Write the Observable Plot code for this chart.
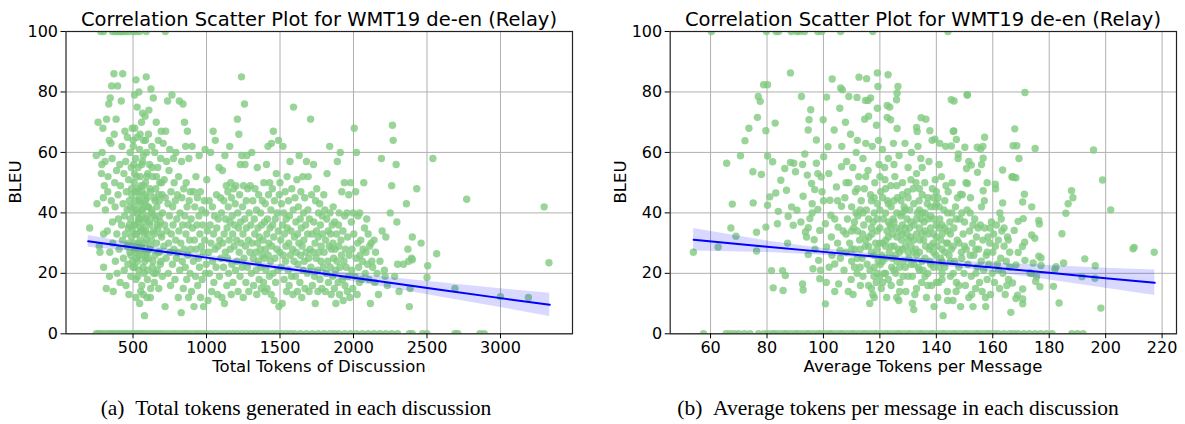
<!DOCTYPE html>
<html><head><meta charset="utf-8">
<script src="https://cdn.jsdelivr.net/npm/d3@7"></script>
<script src="https://cdn.jsdelivr.net/npm/@observablehq/plot@0.6"></script>
<style>
body{margin:0;background:#fff;width:1185px;height:424px;position:relative;overflow:hidden;font-family:"DejaVu Sans",sans-serif;color:#000}
.panel{position:absolute;top:0}
.title{position:absolute;font-size:19.5px;line-height:22px;white-space:nowrap;transform:translateX(-50%)}
.xlab{position:absolute;font-size:16.5px;line-height:18px;white-space:nowrap;transform:translateX(-50%)}
.ylab{position:absolute;font-size:16.5px;line-height:18px;white-space:nowrap;transform:translate(-50%,-50%) rotate(-90deg)}
.cap{position:absolute;font-family:"Liberation Serif",serif;font-size:21.5px;line-height:24px;white-space:nowrap;transform:translateX(-50%)}
</style></head>
<body>
<div id="left" class="panel" style="left:0"></div>
<div id="right" class="panel" style="left:590px"></div>
<div class="title" style="left:319px;top:9px">Correlation Scatter Plot for WMT19 de-en (Relay)</div>
<div class="title" style="left:923px;top:9px">Correlation Scatter Plot for WMT19 de-en (Relay)</div>
<div class="xlab" style="left:319px;top:358px">Total Tokens of Discussion</div>
<div class="xlab" style="left:923px;top:358px">Average Tokens per Message</div>
<div class="ylab" style="left:16px;top:182px">BLEU</div>
<div class="ylab" style="left:621px;top:182px">BLEU</div>
<div class="cap" style="left:296px;top:396px">(a)&nbsp;&nbsp;Total tokens generated in each discussion</div>
<div class="cap" style="left:898px;top:396px">(b)&nbsp;&nbsp;Average tokens per message in each discussion</div>
<script>
// ---------- Panel (a): total tokens vs BLEU ----------
const leftPoints = [
[205,35],[250,59],[255,43],[262,70],[270,29],[275,27],[285,53],[288,56],[290,60],[295,68],[298,45],[300,33],[300,22],
[305,49],[310,57],[312,41],[318,15],[320,71],[325,34],[328,47],[330,52],[335,76],[338,64],[340,19],[342,27],[345,78],[350,63],[352,44],[355,82],[358,58],[360,37],[362,30],[365,14],[370,86],[372,66],[375,50],[378,42],[380,24],[385,71],[388,54],[390,33],[392,20],[395,82],[398,46],[400,38],
[405,28],[410,56],[412,17],[415,49],[420,77],[422,36],[425,62],[428,31],[430,86],[432,43],[435,25],[438,53],[440,21],[442,39],[445,67],[448,33],[450,57],[452,16],[455,47],[458,29],[460,41],[462,65],[465,23],[468,35],[470,51],[472,13],[475,44],[478,27],[480,60],[482,38],[485,19],[488,55],[490,32],[492,46],[495,68],[498,24],[500,40],
[502,62],[505,30],[508,50],[510,79],[510,36],[512,22],[515,44],[518,58],[520,27],[520,84],[522,41],[525,33],[528,65],[530,48],[532,19],[535,55],[538,37],[540,80],[540,26],[542,45],[545,61],[548,31],[550,52],[552,14],[555,39],[558,70],[560,28],[562,47],[565,57],[568,22],[570,35],[572,64],[575,43],[578,6],[580,30],[582,72],[585,50],[588,25],[590,85],[590,38],[592,60],[595,45],[598,18],[600,33],[600,53],
[505,42],[515,36],[525,25],[535,47],[545,38],[555,29],[565,41],[575,33],[585,44],[595,27],[510,53],[530,40],[550,43],[570,49],[590,31],[520,18],[540,21],[560,16],[580,24],[600,21],[555,34],[535,30],[515,28],[575,37],[595,39],
[470,30],[475,36],[480,42],[485,26],[490,48],[495,34],[500,22],[505,56],[510,28],[515,47],[520,33],[525,52],[530,24],[535,38],[540,44],[545,29],[550,35],[555,49],[560,41],[565,26],[570,59],[575,20],[580,46],[585,34],[590,27],[595,52],[600,42],[605,25],[610,37],[615,48],[620,29],[625,41],[630,55],[635,24],[640,39],[645,33],[650,44],[655,20],[660,52],[665,36],[670,27],[675,46],[680,39],[685,23],[690,33],[695,50],[512,68],[528,75],[548,66],[565,73],[585,64],[605,66],[520,12],[545,10],[570,13],[595,12],[620,15],[640,20],[560,56],[500,64],
[605,42],[608,74],[610,28],[612,56],[615,36],[618,12],[620,47],[622,81],[625,31],[628,62],[630,40],[632,22],[635,52],[638,78],[640,34],[642,45],[645,17],[648,60],[650,26],[652,38],[655,48],[658,70],[660,30],[662,42],[665,21],[668,55],[670,35],[672,64],[675,15],[678,44],[680,27],[682,50],[685,37],[688,58],[690,24],[692,67],[695,32],[698,46],[700,19],[700,40],
[705,63],[710,29],[712,51],[715,36],[718,9],[720,45],[722,67],[725,25],[728,57],[730,34],[735,77],[738,43],[740,20],[742,30],[745,54],[748,39],[750,61],[752,27],[755,16],[758,47],[760,33],[765,79],[768,23],[770,42],[772,36],[775,58],[778,28],[780,50],[785,18],[788,44],[790,31],[792,60],[795,25],[798,38],
[802,46],[805,27],[808,12],[810,52],[812,34],[815,77],[818,21],[820,40],[825,30],[828,7],[830,57],[832,45],[835,24],[838,36],[840,76],[842,15],[845,48],[848,28],[850,70],[852,39],[855,22],[858,62],[860,33],[862,50],[865,18],[868,42],[870,67],[872,26],[875,36],[878,12],[880,58],[882,44],[885,31],[888,20],[890,47],[892,28],[895,38],[898,14],
[902,62],[905,35],[910,24],[912,47],[915,9],[918,31],[920,42],[925,19],[928,52],[930,28],[935,36],[938,45],[940,16],[945,25],[948,39],[950,59],[952,22],[955,33],[958,47],[960,12],[965,29],[968,41],[970,18],[975,36],[978,27],[980,9],[985,44],[988,31],[990,61],[992,20],[995,40],[998,23],
[1002,51],[1005,34],[1010,11],[1015,27],[1018,44],[1020,20],[1025,36],[1028,60],[1030,30],[1035,14],[1040,42],[1042,24],[1045,67],[1048,33],[1050,17],[1055,39],[1058,28],[1060,64],[1065,22],[1068,46],[1070,35],[1075,13],[1078,29],[1080,38],[1085,55],[1088,19],[1090,31],[1095,45],[1098,25],
[1102,40],[1105,12],[1108,54],[1110,30],[1115,22],[1118,44],[1120,33],[1122,10],[1125,59],[1128,27],[1130,38],[1135,49],[1138,16],[1140,35],[1142,25],[1145,47],[1148,42],[1150,20],[1155,31],[1158,62],[1160,37],[1162,28],[1165,50],[1168,13],[1170,45],[1172,23],[1175,39],[1178,33],[1180,17],[1185,48],[1188,29],[1190,36],[1195,43],[1198,21],
[1200,49],[1205,31],[1208,24],[1210,71],[1212,40],[1215,14],[1218,35],[1220,66],[1222,27],[1225,46],[1228,19],[1230,56],[1232,37],[1235,30],[1238,85],[1240,59],[1242,22],[1245,42],[1248,33],[1250,12],[1252,49],[1255,25],[1258,76],[1260,38],[1262,56],[1265,29],[1268,17],[1270,44],[1272,35],[1275,59],[1278,22],[1280,48],[1285,31],[1288,14],[1290,40],[1295,27],[1298,49],
[1302,36],[1305,20],[1308,60],[1310,30],[1315,44],[1318,25],[1320,16],[1325,38],[1328,33],[1330,48],[1335,27],[1338,21],[1340,41],[1342,13],[1345,55],[1348,30],[1350,35],[1352,24],[1355,46],[1358,18],[1360,32],[1365,28],[1368,40],[1370,22],[1372,15],[1375,36],[1378,26],[1380,44],[1385,31],[1388,17],[1390,50],[1392,25],[1395,37],[1398,14],
[1400,43],[1402,28],[1405,21],[1408,56],[1410,33],[1412,15],[1415,38],[1418,62],[1420,26],[1422,46],[1425,30],[1428,19],[1430,50],[1432,35],[1435,24],[1438,41],[1440,13],[1442,63],[1445,29],[1448,48],[1450,36],[1452,20],[1455,67],[1458,32],[1460,11],[1462,44],[1465,25],[1468,38],[1470,17],[1475,53],[1478,28],[1480,40],[1485,21],[1488,34],[1490,64],[1492,9],[1495,46],[1498,27],
[1500,50],[1505,31],[1508,22],[1510,43],[1515,10],[1518,36],[1520,62],[1522,26],[1525,40],[1528,18],[1530,33],[1535,47],[1538,24],[1540,29],[1542,38],[1545,14],[1548,52],[1550,35],[1555,21],[1558,44],[1560,30],[1562,16],[1565,39],[1568,57],[1570,26],[1575,34],[1578,19],[1580,48],[1585,28],[1588,13],[1590,41],[1592,75],[1595,24],[1598,32],
[1602,45],[1605,19],[1608,37],[1610,27],[1615,51],[1618,14],[1620,33],[1622,23],[1625,42],[1628,30],[1630,59],[1635,17],[1638,38],[1640,26],[1642,47],[1645,35],[1648,12],[1650,29],[1655,52],[1658,21],[1660,40],[1662,31],[1665,24],[1668,45],[1670,15],[1675,36],[1678,27],[1680,57],[1685,20],[1688,33],[1690,41],[1692,52],[1695,25],[1698,14],
[1700,38],[1705,28],[1708,71],[1710,22],[1715,46],[1718,33],[1720,16],[1725,27],[1728,56],[1730,37],[1735,19],[1738,30],[1740,10],[1742,44],[1745,25],[1748,34],[1750,48],[1755,21],[1758,14],[1760,32],[1762,40],[1765,27],[1770,43],[1772,18],[1775,36],[1778,24],[1780,29],[1785,15],[1788,39],[1790,33],[1795,22],[1798,46],
[1800,27],[1805,41],[1808,14],[1810,31],[1815,20],[1818,38],[1820,53],[1825,24],[1828,34],[1830,17],[1835,29],[1838,62],[1840,40],[1842,22],[1845,33],[1848,13],[1850,28],[1855,36],[1858,19],[1860,30],[1862,42],[1865,25],[1870,15],[1872,37],[1875,28],[1878,21],[1880,10],[1885,33],[1888,24],[1890,57],[1895,17],[1898,36],
[1900,29],[1902,40],[1905,13],[1908,22],[1910,60],[1915,31],[1918,26],[1920,47],[1925,18],[1928,34],[1930,11],[1935,24],[1938,50],[1940,39],[1942,16],[1945,28],[1950,22],[1955,40],[1958,14],[1960,32],[1965,19],[1968,46],[1970,26],[1975,12],[1980,50],[1985,37],[1988,21],[1990,28],[1995,15],[1998,40],
[2002,33],[2005,68],[2010,19],[2015,47],[2018,25],[2020,60],[2025,13],[2028,30],[2030,39],[2035,22],[2040,17],[2042,40],[2045,26],[2050,31],[2055,18],[2060,24],[2065,28],[2070,50],[2075,35],[2080,20],[2085,27],[2090,38],[2095,23],
[2100,33],[2105,18],[2110,29],[2115,10],[2120,30],[2125,24],[2130,22],[2140,31],[2145,17],[2150,27],[2160,20],[2170,13],[2180,24],[2190,58],[2195,34],
[2210,21],[2215,19],[2220,32],[2230,16],[2250,40],[2260,49],[2265,69],[2270,64],[2280,19],[2290,56],[2295,37],[2300,23],[2310,14],[2340,23],[2360,43],[2370,28],[2375,24],[2380,9],[2385,15],[2395,25],[2400,32],[2400,24.5],[2430,48],[2460,30],[2500,18.6],[2505,22.5],[2540,58],[2566,26.5],
[2690,15],[2770,44.5],[3000,12.3],[3190,12],[3297,42],[3330,23.5]
];
const leftZeroX = [250,265,280,300,320,340,355,370,390,405,420,440,455,470,490,505,520,535,550,565,580,600,620,640,660,680,700,720,745,770,790,815,840,860,880,905,930,950,975,1000,1030,1060,1090,1120,1150,1180,1210,1240,1270,1300,1330,1360,1390,1420,1450,1480,1510,1540,1570,1600,1640,1680,1720,1760,1800,1840,1870,1900,1940,1980,2020,2060,2100,2140,2180,2220,2260,2300,2380,2400,2470,2500,2690,2710,2860,2890];
const leftTopX = [280,300,360,380,390,410,420,430,450,470,500,520,545,590,720];
const leftFitX  = [195, 600, 1000, 1400, 1800, 2200, 2600, 3000, 3335];
const leftFitY  = [30.6, 27.9, 25.2, 22.5, 19.9, 17.2, 14.5, 11.8, 9.6];
const leftFitLo = [28.65, 26.7, 24.3, 21.6, 18.8, 15.6, 12.1, 8.7, 5.75];
const leftFitHi = [32.55, 29.1, 26.1, 23.4, 21.0, 18.8, 16.9, 14.9, 13.45];
const leftTicks = [500, 1000, 1500, 2000, 2500, 3000];

// ---------- Panel (b): average tokens per message vs BLEU ----------
const rightPoints = [
[53.9,27.0],[62.7,28.7],[65.7,56.4],[67.7,42.9],[67.2,35.0],[69.0,32.3],[70.6,58.9],[72.2,63.9],[73.6,68.0],[75.0,53.6],[75.1,43.3],[76.3,33.6],[76.3,27.4],[76.6,71.6],[76.9,78.5],[77.6,76.9],[78.0,52.7],[78.8,82.4],[80.2,82.4],[79.6,67.2],[80.2,58.8],[79.6,35.3],[80.2,42.5],[81.0,45.3],[81.6,20.9],[82.0,56.9],[82.2,15.2],[82.9,69.7],[83.1,46.6],[83.7,36.4],[84.0,40.5],[84.9,50.8],[85.5,20.9],[85.7,14.3],[86.3,54.7],[86.5,19.3],[86.9,47.5],[87.5,38.9],[87.3,30.0],[88.3,86.3],[88.3,56.7],[88.7,42.0],[89.3,35.9],[89.5,56.4],[90.1,53.6],[90.6,40.9],
[92.0,37.0],[92.2,78.5],[92.6,56.0],[92.8,45.5],[92.6,16.5],[92.8,14.5],[93.4,59.5],[93.6,33.7],[94.0,32.0],[94.3,52.5],[94.6,26.2],[94.6,35.1],[95.2,38.1],[95.5,74.1],[95.8,49.7],[96.0,40.0],[96.3,21.5],[96.7,31.1],[96.9,47.7],[94.9,70.8],[94.6,67.4],[97.5,64.1],[97.5,56.4],[98.0,41.1],[98.3,24.3],[98.7,18.2],[98.7,34.2],[99.2,51.9],[99.5,47.0],[99.9,70.8],[100.1,58.6],[100.7,36.4],[100.7,9.9],[101.1,78.3],[101.1,28.7],[101.6,61.9],[101.9,53.0],[102.3,44.2],[102.6,39.2],[102.8,32.0],[103.1,84.3],[103.8,67.4],[104.0,23.1],[104.6,48.6],[105.2,35.3],[105.4,16.5],[105.8,74.6],[105.9,27.6],[106.1,81.3],[106.4,55.3],[106.4,42.2],
[97,28],[99,21],[101,17],[103,26],[104,14],[100,44],[98,53],[102,22],[96,43],[105,30],
[106.5,62],[107,34],[107.3,21],[107.6,45],[108,27],[108.2,57],[108.5,38],[108.8,14],[109,50],[109.3,30],[109.6,66],[110,24],[110,42],[107.8,70],[109.8,18],
[110.4,55],[110.7,35],[111,28],[111.3,47],[111.6,60],[111.9,20],[112.2,39],[112.5,52],[112.8,31],[113.1,16],[113.4,44],[113.7,25],[114,58],[114.3,36],[114.6,71],[114.9,29],[110.5,13],[112,64],[113,22],[114.5,48],[111.5,40],[113.8,33],
[115.2,41],[115.5,23],[115.8,54],[116.1,32],[116.4,10],[116.7,46],[117,27],[117.3,62],[117.6,37],[117.9,19],[118.2,50],[118.5,30],[118.8,69],[119.1,43],[119.4,24],[119.7,56],[120,35],[115,63],[116,72],[117.5,13],[118,40],[119,28],[116.5,21],[119.5,64],[117.2,33],[118.7,17],
[120.3,47],[120.6,26],[120.9,61],[121.2,38],[121.5,20],[121.8,51],[122.1,31],[122.4,12],[122.7,44],[123,58],[123.3,27],[123.6,36],[123.9,49],[124.2,22],[124.5,33],[124.8,63],[120.5,15],[121,30],[122,40],[123,18],[124,42],[125,29],[121.7,55],[123.5,75],[124.3,25],[122.5,34],[120.2,23],[124.7,38],
[125.3,52],[125.6,20],[125.9,35],[126.2,45],[126.5,28],[126.8,59],[127.1,17],[127.4,39],[127.7,31],[128,50],[128.3,24],[128.6,42],[128.9,63],[129.2,14],[129.5,33],[129.8,47],[125.5,26],[126,40],[127,22],[128,36],[129,29],[130,55],[126.7,11],[128.2,19],[127.5,44],[129.6,38],
[130.3,25],[130.6,41],[130.9,32],[131.2,60],[131.5,19],[131.8,48],[132.1,36],[132.4,13],[132.7,28],[133,53],[133.3,40],[133.6,22],[133.9,44],[134.2,31],[134.5,58],[134.8,17],[130.5,35],[131,29],[132,23],[133,33],[134,27],[135,46],[131.5,10],[133.5,62],[132.8,50],[134.6,38],
[135.3,21],[135.6,37],[135.9,50],[136.2,29],[136.5,12],[136.8,43],[137.1,33],[137.4,57],[137.7,24],[138,39],[138.3,16],[138.6,48],[138.9,30],[139.2,9],[139.5,42],[139.8,26],[135.5,31],[136,19],[137,45],[138,35],[139,22],[140,36],[136.3,71],[138.5,64],[137.5,28],[139.6,51],
[140.3,29],[140.6,45],[140.9,17],[141.2,38],[141.5,25],[141.8,52],[142.1,33],[142.4,6],[142.7,41],[143,22],[143.3,62],[143.6,30],[143.9,14],[144.2,47],[144.5,26],[144.8,37],[140.5,12],[141,56],[142,20],[143,44],[144,34],[145,19],[141.6,31],[143.4,49],
[145.3,28],[145.6,50],[145.9,11],[146.2,35],[146.5,24],[146.8,42],[147.1,17],[147.4,31],[147.7,58],[148,22],[148.3,38],[148.6,9],[148.9,27],[149.2,46],[149.5,33],[149.8,20],[145.5,40],[146,67],[147,14],[148,30],[149,25],[150,37],[146.3,77],[147.5,45],
[150.3,16],[150.6,28],[150.9,41],[151.2,23],[151.5,12],[151.8,34],[152.1,45],[152.4,19],[152.7,30],[153,9],[153.3,26],[153.6,38],[153.9,15],[154.2,32],[154.5,22],[154.8,35],[150.5,50],[151,79],[152,26],[153,36],[154,20],[155,28],[151.5,57],[152.5,13],
[155.3,17],[155.6,36],[155.9,24],[156.2,14],[156.5,31],[156.8,21],[157.1,35],[157.4,12],[157.7,26],[158,18],[158.3,32],[158.6,23],[158.9,30],[159.2,13],[159.5,37],[159.8,20],[156,56],[157,44],[158,50],[159,35],[160,27],[156.5,62],[157.5,9],
[160.3,33],[160.6,17],[160.9,29],[161.3,36],[161.6,23],[162,31],[162.4,15],[162.8,25],[163.2,34],[163.6,20],[164,29],[164.4,13],[164.8,24],[165.2,32],[165.6,18],[166,27],[161,48],[162,21],[163,38],[164,35],[165,16],[166,22],[165.5,31],
[108,33],[110,28],[111,37],[112,25],[113,41],[114,19],[115,31],[116,38],[117,44],[118,26],[119,34],[120,41],[121,24],[122,29],[123,37],[124,16],[125,44],[126,32],[127,27],[128,40],[129,22],[130,31],[131,37],[132,43],[133,26],[134,35],[135,24],[136,40],[137,20],[138,29],[139,33],[140,43],[141,22],[142,36],[143,27],[144,40],[145,33],[146,29],[147,38],[148,16],[149,40],[150,29],[118,22],[121,17],[124,35],[127,14],[130,19],[133,15],[136,34],[139,38],[142,28],[145,24],[112,48],[115,52],[120,52],[125,56],[130,45],[135,55],[140,47],[110,34],[116,16],[122,48],[128,33],[134,48],[140,17],[146,20],[152,40],[154,28],[156,42],[158,27],[118,12],[126,12],[132,8],[144,11],[104,38],[106,25],[108,50],[105,44],
[116,29],[117,35],[118,45],[119,20],[120,30],[121,45],[122,25],[123,32],[124,29],[125,37],[126,24],[127,34],[128,28],[129,41],[130,27],[131,23],[132,31],[133,38],[134,21],[135,33],[136,25],[137,38],[138,23],[139,27],[140,32],[141,42],[142,24],[143,35],[114,40],[113,28],[112,34],[111,22],[117,15],[119,38],[122,20],[125,21],[128,46],[131,51],[134,41],[137,16],[139,45],[142,18],[126,49],[123,43],[120,19],[129,35],[132,27],[135,40],[138,42],[141,35],[144,30]
,
[112.6,84.9],[115.3,84.4],[119.1,86.3],[119.3,81.8],[122.9,85.7],[126.1,79.6],[126.4,81.8],[125.9,77.4],[109.0,78.5],[111.9,78.2],[114.9,77.2],[116.7,78.0],[115.8,77.2],[106.7,80.7],[119.1,74.6],[122.6,75.5],[122.6,71.6],[123.8,70.8],[134.6,71.5],[133.0,68.3],[145.3,77.4],[150.9,79.1],[126.1,67.9],[133.2,66.9],[137.7,67.2],[146.2,67.1],[157.1,65.0],[147.1,64.3],[141.2,63.0],[139.5,64.4],[145.3,62.1],[150.1,61.7],[154.5,61.7],[155.7,61.1],[147.8,59.5],[156.6,58.1],[150.7,54.7],[152.4,55.8],[154.6,53.4],[151.0,49.7],[156.6,47.3],[148.6,46.2],[163.5,54.2],[160.9,49.5],[166.8,51.9],[162.5,40.0],[163.5,43.3],[167.2,62.2],[167.4,51.8],
[171.4,79.8],[167.8,67.8],[168.5,62.2],[175.0,61.3],[169.3,58.0],[167.0,52.0],[168.2,51.6],[171.2,46.2],[170.6,43.6],[173.8,42.0],[195.7,60.8],[198.9,50.9],[201.8,41.0],[187.9,47.3],[188.4,45.0],[186.7,43.0],[185.9,39.9],[184.5,33.1],[185.1,23.4],[181.5,15.7],[183.5,10.2],[192.6,24.8],[196.3,22.5],[196.2,18.4],[191.6,18.9],[198.3,8.5],[209.7,28.1],[210.1,28.6],[217.2,27.0],[182.4,22.2],[182.0,21.3],[169.0,37.2],[170.8,38.1],[167.6,34.2],[176.3,37.5],[176.5,36.3],[173.8,32.7],[174.9,31.6],[171.3,30.3],[170.5,28.9],[169.0,26.9],[176.3,25.7],[177.1,25.1],[174.3,23.4],[171.4,24.3],[177.1,22.6],[168.2,22.8],[173.7,20.0],[175.5,18.9],[175.2,17.3],[176.7,15.6],[167.0,16.8],[170.6,14.8],[168.8,12.8],[168.2,11.7],[170.6,11.5],[170.6,9.9],[166.4,7.1],[173.1,20.2]
];
const rightZeroX = [57.5,65.5,67,68.5,70,72,74,77,79,80.5,82,83,84.5,86,87,88.5,90,91,92.5,94,95,96.5,98,99,100.5,102,103,104.5,106,107,108.5,110,111,112.5,114,115,116.5,118,119,120.5,122,123,124.5,126,127,128.5,130,131,132.5,134,135,136.5,138,139,140.5,142,143,144.5,146,147,148.5,150,151,152.5,154,155,156.5,158,159,160.5,162,164,166,167.5,169,171,173,175,177,179,181,188,190,192];
const rightTopX = [60.3,79.8,83.2,84.1,88.6,90.6,91.5,93.3,98,99.4,106.1,117.5,144.1];
const rightFitX  = [54, 80, 100, 120, 140, 160, 180, 200, 217.4];
const rightFitY  = [31.1, 28.8, 27.1, 25.4, 23.6, 21.9, 20.2, 18.4, 16.9];
const rightFitLo = [27.4, 26.9, 26.0, 24.6, 22.7, 20.4, 17.8, 15.1, 12.7];
const rightFitHi = [34.8, 30.7, 28.2, 26.2, 24.5, 23.4, 22.6, 21.7, 21.1];
const rightTicks = [60, 80, 100, 120, 140, 160, 180, 200, 220];

const yTicks = [0, 20, 40, 60, 80, 100];

function panel({points, zeroX, topX, fitX, fitY, fitLo, fitHi, xTicks, xDomain, width, ml, mr}) {
  const pts = points.concat(zeroX.map(x => [x, 0]), topX.map(x => [x, 100]));
  const fit = fitX.map((x, i) => ({x, y: fitY[i], lo: fitLo[i], hi: fitHi[i]}));
  return Plot.plot({
    width, height: 380,
    marginLeft: ml, marginRight: mr, marginTop: 31, marginBottom: 46.7,
    style: {fontFamily: "DejaVu Sans", fontSize: "16px", background: "transparent", color: "#000"},
    x: {domain: xDomain, ticks: xTicks, tickSize: 5, tickPadding: 3, label: null, tickFormat: d => String(d)},
    y: {domain: [0, 100], ticks: yTicks, tickSize: 5, tickPadding: 3, label: null},
    marks: [
      Plot.gridX(xTicks, {stroke: "#b0b0b0", strokeOpacity: 1, strokeWidth: 1}),
      Plot.gridY(yTicks, {stroke: "#b0b0b0", strokeOpacity: 1, strokeWidth: 1}),
      Plot.dot(pts, {x: d => d[0], y: d => d[1], r: 3.7, fill: "#7fc97f", fillOpacity: 0.8, stroke: "none", clip: true}),
      Plot.areaY(fit, {x: "x", y1: "lo", y2: "hi", fill: "#0000ff", fillOpacity: 0.15}),
      Plot.line(fit, {x: "x", y: "y", stroke: "#0000ff", strokeWidth: 2}),
      Plot.frame({stroke: "#222", strokeWidth: 1.2}),
      Plot.axisX({ticks: xTicks, tickSize: 5, tickPadding: 3, label: null, tickFormat: d => String(d)}),
      Plot.axisY({ticks: yTicks, tickSize: 5, tickPadding: 3, label: null})
    ]
  });
}

document.getElementById("left").appendChild(panel({
  points: leftPoints, zeroX: leftZeroX, topX: leftTopX,
  fitX: leftFitX, fitY: leftFitY, fitLo: leftFitLo, fitHi: leftFitHi,
  xTicks: leftTicks, xDomain: [44, 3490], width: 590, ml: 65.5, mr: 18
}));
document.getElementById("right").appendChild(panel({
  points: rightPoints, zeroX: rightZeroX, topX: rightTopX,
  fitX: rightFitX, fitY: rightFitY, fitLo: rightFitLo, fitHi: rightFitHi,
  xTicks: rightTicks, xDomain: [45.7, 225.1], width: 595, ml: 79.7, mr: 9
}));
</script>
</body></html>
